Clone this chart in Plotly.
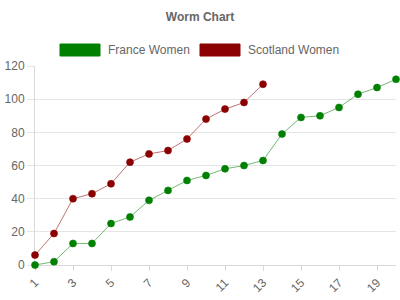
import plotly.graph_objects as go

overs = list(range(1, 21))
france = [0, 2, 13, 13, 25, 29, 39, 45, 51, 54, 58, 60, 63, 79, 89, 90, 95, 103, 107, 112]
scotland = [6, 19, 40, 43, 49, 62, 67, 69, 76, 88, 94, 98, 109]
tick_vals = list(range(1, 20, 2))
y_ticks = [0, 20, 40, 60, 80, 100, 120]

GREEN = "#008000"
RED = "#8b0000"
FONT = "Liberation Sans, Arial, sans-serif"

fig = go.Figure()
fig.add_trace(go.Scatter(x=overs[:len(france)], y=france, mode="lines+markers", name="France Women",
                         line=dict(color="rgba(0,128,0,0.55)", width=1),
                         marker=dict(color=GREEN, size=7, line=dict(color="rgba(0,128,0,0.6)", width=1)),
                         cliponaxis=False, showlegend=False))
fig.add_trace(go.Scatter(x=overs[:len(scotland)], y=scotland, mode="lines+markers", name="Scotland Women",
                         line=dict(color="rgba(139,0,0,0.55)", width=1),
                         marker=dict(color=RED, size=7, line=dict(color="rgba(139,0,0,0.6)", width=1)),
                         cliponaxis=False, showlegend=False))

# custom legend (wide boxes like the reference)
L, R, T, B = 35, 4, 66, 35
pw, ph = 400 - L - R, 300 - T - B
def px(x): return (x - L) / pw
def py(y): return (300 - B - y) / ph

legend_items = [("France Women", GREEN, 60), ("Scotland Women", RED, 200)]
shapes = []
annotations = []
for name, col, x0 in legend_items:
    shapes.append(dict(type="rect", xref="paper", yref="paper", x0=px(x0), x1=px(x0 + 40),
                       y0=py(56), y1=py(44), fillcolor=col, line=dict(color=col, width=1), layer="above"))
    annotations.append(dict(xref="paper", yref="paper", x=px(x0 + 46), y=py(50), text=name,
                            showarrow=False, xanchor="left", yanchor="middle",
                            font=dict(family=FONT, size=12, color="#666666")))

fig.update_layout(
    width=400, height=300,
    margin=dict(l=L, r=R, t=T, b=B),
    paper_bgcolor="white", plot_bgcolor="white",
    title=dict(text="<b>Worm Chart</b>", x=0.5, xref="container", xanchor="center",
               y=1 - 17 / 300, yref="container", yanchor="middle",
               font=dict(family=FONT, size=12, color="#666666")),
    font=dict(family=FONT, size=12, color="#666666"),
    shapes=shapes, annotations=annotations,
    showlegend=False,
)
fig.update_xaxes(range=[1, 20], tickvals=tick_vals, ticktext=[str(v) for v in tick_vals],
                 tickangle=-45, showgrid=False, showline=True, linecolor="#d9d9d9", linewidth=1,
                 ticks="outside", ticklen=5, tickcolor="#d9d9d9", zeroline=False, layer="below traces",
                 tickfont=dict(family=FONT, size=12, color="#666666"))
fig.update_yaxes(range=[0, 120], tickvals=y_ticks, showgrid=True, gridcolor="#e5e5e5", gridwidth=1,
                 showline=True, linecolor="#d9d9d9", linewidth=1, layer="below traces",
                 ticks="outside", ticklen=7, tickcolor="#e5e5e5", zeroline=False,
                 tickfont=dict(family=FONT, size=12, color="#666666"))

fig.write_html("out.html")
